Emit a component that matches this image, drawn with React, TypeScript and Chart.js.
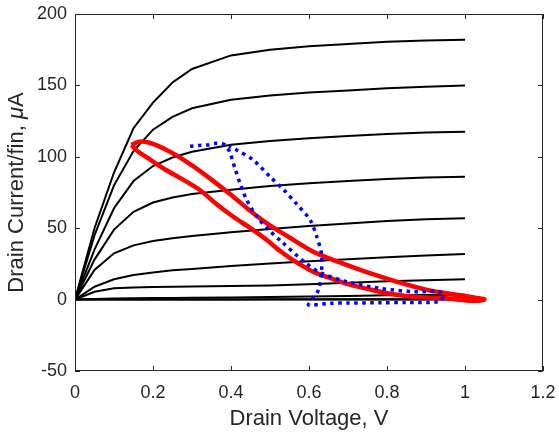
import React, { useEffect, useRef } from "react";
import { Chart, registerables } from "chart.js";
Chart.register(...registerables);

// Drain voltage sample points for the Id-Vd family
const vd = [0, 0.05, 0.1, 0.15, 0.2, 0.25, 0.3, 0.4, 0.5, 0.6, 0.7, 0.8, 0.9, 1.0];
const id1 = [0, 50, 89, 120, 138, 152, 161.5, 171, 175, 177.5, 179, 180.5, 181.5, 182];
const id2 = [0, 45, 80, 104, 119, 128, 134, 140, 143, 145, 146.5, 148, 149, 150];
const id3 = [0, 35, 64, 83, 93.5, 99.5, 103.5, 108.5, 111, 113, 114.5, 116, 117, 117.5];
const id4 = [0, 28, 49, 61.5, 68, 71.5, 74, 77, 79.5, 81.5, 83, 84.5, 85.5, 86];
const id5 = [0, 20.7, 32.4, 38, 41, 43, 44.5, 47.2, 49.5, 51.5, 53.3, 55, 56.2, 57];
const id6 = [0, 9, 14.2, 17.2, 19, 20.5, 21.5, 23.5, 25.3, 26.8, 28.2, 29.6, 30.8, 32];
const id7 = [0, 5.5, 7.9, 8.5, 8.8, 9.0, 9.2, 9.5, 9.9, 10.8, 11.8, 12.8, 13.6, 14.3];
const id8 = [0, 0.5, 0.8, 1.0, 1.1, 1.2, 1.3, 1.5, 1.8, 2.2, 2.6, 3.0, 3.2, 3.4];
const id9 = [0, 0.05, 0.08, 0.1, 0.11, 0.12, 0.13, 0.15, 0.17, 0.2, 0.22, 0.25, 0.28, 0.3];
const id10 = [0, 0, 0, 0, 0, 0, 0, 0, 0, 0, 0, 0, 0, 0];
const familyCurves = [id1, id2, id3, id4, id5, id6, id7, id8, id9, id10];

// Red load-line loop
const redX = [0.145, 0.16, 0.18, 0.2, 0.226, 0.26, 0.3, 0.35, 0.406, 0.45, 0.492, 0.55, 0.611, 0.679, 0.75, 0.82, 0.9, 0.953, 1.0, 1.03, 1.05,
  1.04, 1.013, 0.98, 0.953, 0.9, 0.868, 0.8, 0.75, 0.697, 0.65, 0.611, 0.56, 0.526, 0.492, 0.45, 0.406, 0.36, 0.321, 0.28, 0.226, 0.19, 0.16, 0.145];
const redY = [108.3, 110.3, 110.5, 109, 106, 101, 94, 84, 72, 62, 53.4, 43.5, 33.5, 26, 19, 13, 7, 4.4, 2.5, 1.2, 0.2,
  -0.6, -0.8, 0, 0.9, 1.5, 2, 4.5, 7.5, 11, 15.5, 19.5, 27.5, 34, 41.7, 50, 58, 67.5, 76.6, 83.5, 92, 98.5, 104, 108.3];

// Blue dotted loop
const blueX = [0.295, 0.32, 0.341, 0.363, 0.385, 0.397, 0.41, 0.425, 0.44, 0.466, 0.5, 0.526, 0.59, 0.628, 0.697, 0.782, 0.868, 0.936, 0.945, 0.932,
  0.85, 0.78, 0.7, 0.654, 0.599, 0.603, 0.624, 0.632, 0.632, 0.62, 0.603, 0.568, 0.535, 0.5, 0.457, 0.414, 0.395];
const blueY = [107.4, 108, 108.3, 109.5, 108.3, 103, 92, 80, 70, 58, 48, 41.5, 26, 19, 12.5, 7.9, 5.5, 5.5, 2.5, -1.5,
  -2, -2.2, -2.4, -2.6, -3.8, -1.5, 6.7, 20, 32, 44, 55.7, 67, 77, 86, 97.8, 104.8, 107.5];

const xTicks = [0, 0.2, 0.4, 0.6, 0.8, 1, 1.2];
const yTicks = [-50, 0, 50, 100, 150, 200];
const yTitleParts = ["Drain Current/fin, ", "\u03BC", "A"];

const AXIS = "#262626";
const FONT = "'Liberation Sans', Arial, Helvetica, sans-serif";

const boxPlugin = {
  id: "matlabBox",
  afterDraw(chart: any) {
    const { ctx, chartArea: a, scales } = chart;
    const x = scales.x;
    const y = scales.y;
    ctx.save();
    ctx.strokeStyle = AXIS;
    ctx.lineWidth = 1;
    ctx.strokeRect(a.left + 0.5, a.top + 0.5, a.right - a.left - 1, a.bottom - a.top - 1);
    const tl = 5;
    ctx.beginPath();
    xTicks.forEach((v) => {
      const px = Math.round(x.getPixelForValue(v)) + 0.5;
      ctx.moveTo(px, a.bottom);
      ctx.lineTo(px, a.bottom - tl);
      ctx.moveTo(px, a.top);
      ctx.lineTo(px, a.top + tl);
    });
    yTicks.forEach((v) => {
      const py = Math.round(y.getPixelForValue(v)) + 0.5;
      ctx.moveTo(a.left, py);
      ctx.lineTo(a.left + tl, py);
      ctx.moveTo(a.right, py);
      ctx.lineTo(a.right - tl, py);
    });
    ctx.stroke();

    // y-axis title with TeX-like italic mu
    const fonts = [`22px ${FONT}`, `italic 22px ${FONT}`, `22px ${FONT}`];
    const widths = yTitleParts.map((t, i) => {
      ctx.font = fonts[i];
      return ctx.measureText(t).width;
    });
    const total = widths.reduce((s, w) => s + w, 0);
    ctx.translate(17, (a.top + a.bottom) / 2);
    ctx.rotate(-Math.PI / 2);
    ctx.fillStyle = AXIS;
    ctx.textBaseline = "middle";
    ctx.textAlign = "left";
    let cx = -total / 2;
    yTitleParts.forEach((t, i) => {
      ctx.font = fonts[i];
      ctx.fillText(t, cx, 0);
      cx += widths[i];
    });
    ctx.restore();
  },
};

const zeroPad = (s: any) => {
  s.paddingTop = 0;
  s.paddingBottom = 0;
  s.paddingLeft = 0;
  s.paddingRight = 0;
};

export default function App() {
  const ref = useRef<HTMLCanvasElement | null>(null);
  useEffect(() => {
    document.body.style.margin = "0";
    const canvas = ref.current!;
    const blackSets = familyCurves.map((c) => ({
      data: vd.map((v, i) => ({ x: v, y: c[i] })),
      borderColor: "#000000",
      borderWidth: 2,
      pointRadius: 0,
      showLine: true,
      tension: 0,
      order: 3,
    }));
    const chart = new Chart(canvas, {
      type: "scatter",
      data: {
        datasets: [
          {
            data: blueX.map((v, i) => ({ x: v, y: blueY[i] })),
            borderColor: "#0000ff",
            borderWidth: 3.5,
            borderDash: [3.5, 4.5],
            borderCapStyle: "butt",
            pointRadius: 0,
            showLine: true,
            tension: 0.3,
            order: 1,
          },
          {
            data: redX.map((v, i) => ({ x: v, y: redY[i] })),
            borderColor: "#ff0000",
            borderWidth: 4.5,
            pointRadius: 0,
            showLine: true,
            tension: 0.3,
            order: 2,
          },
          ...blackSets,
        ] as any,
      },
      options: {
        responsive: false,
        animation: false,
        devicePixelRatio: 1,
        layout: { padding: { top: 14, right: 16, left: 0, bottom: 0 } },
        plugins: { legend: { display: false }, tooltip: { enabled: false } },
        scales: {
          x: {
            type: "linear",
            min: 0,
            max: 1.2,
            grid: { display: false, drawTicks: false },
            border: { display: false },
            afterBuildTicks: (s: any) => {
              s.ticks = xTicks.map((v) => ({ value: v }));
            },
            afterFit: (s: any) => {
              s.height = 64;
              zeroPad(s);
            },
            ticks: {
              color: AXIS,
              font: { family: FONT, size: 18 },
              padding: 11,
              maxRotation: 0,
              callback: (v: any) => String(Math.round(Number(v) * 10) / 10),
            },
            title: {
              display: true,
              text: "Drain Voltage, V",
              color: AXIS,
              font: { family: FONT, size: 22 },
              padding: { top: 0, bottom: 3 },
            },
          },
          y: {
            type: "linear",
            min: -50,
            max: 200,
            grid: { display: false, drawTicks: false },
            border: { display: false },
            afterBuildTicks: (s: any) => {
              s.ticks = yTicks.map((v) => ({ value: v }));
            },
            afterFit: (s: any) => {
              s.width = 75;
              zeroPad(s);
            },
            ticks: {
              color: AXIS,
              font: { family: FONT, size: 18 },
              padding: 8,
              callback: (v: any) => String(v),
            },
            title: { display: false },
          },
        },
      },
      plugins: [boxPlugin],
    });
    return () => chart.destroy();
  }, []);
  return <canvas ref={ref} width={559} height={435} style={{ display: "block" }} />;
}
